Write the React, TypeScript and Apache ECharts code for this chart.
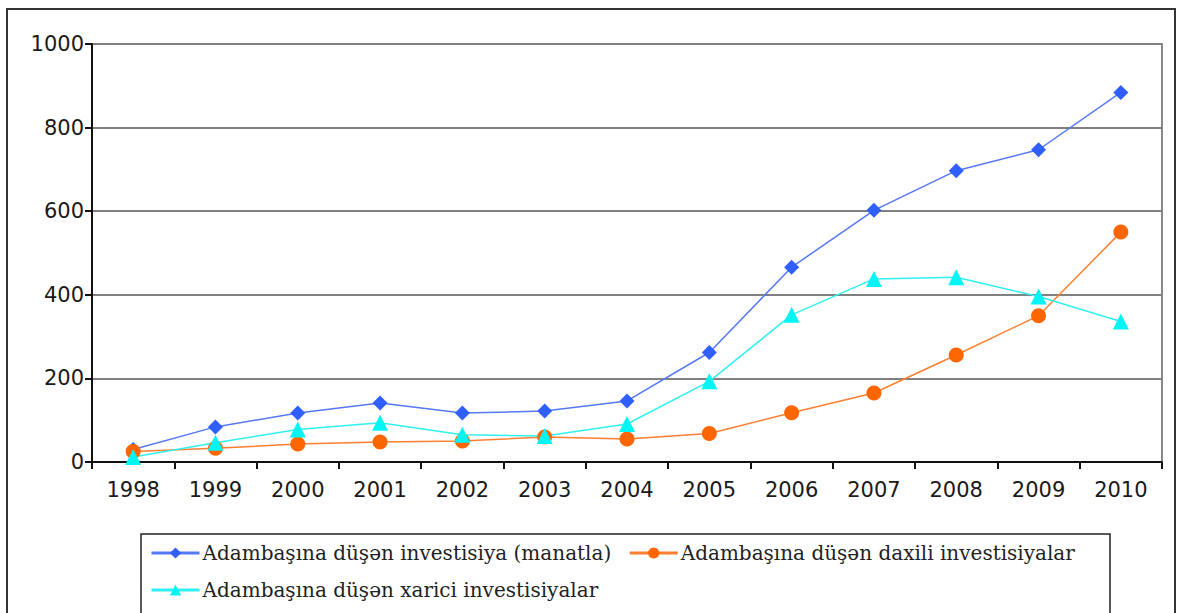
import React, { useEffect, useRef } from "react";
import * as echarts from "echarts";

const years = ["1998", "1999", "2000", "2001", "2002", "2003", "2004", "2005", "2006", "2007", "2008", "2009", "2010"];
const totalPerCapita = [30, 84, 117, 141, 117, 122, 146, 262, 466, 602, 697, 747, 884];
const domesticPerCapita = [25, 33, 43, 48, 50, 60, 55, 68, 118, 165, 256, 350, 550];
const foreignPerCapita = [12, 46, 78, 94, 65, 62, 91, 193, 352, 438, 442, 396, 336];
const seriesNames = [
  "Adambaşına düşən investisiya (manatla)",
  "Adambaşına düşən daxili investisiyalar",
  "Adambaşına düşən xarici investisiyalar",
];

export default function App() {
  const ref = useRef<HTMLDivElement>(null);
  useEffect(() => {
    if (!ref.current) return;
    const chart = echarts.init(ref.current, null, { renderer: "svg" });
    chart.setOption({
      animation: false,
      backgroundColor: "#ffffff",
      grid: {
        left: 92,
        right: 18,
        top: 44,
        bottom: 151,
        show: true,
        borderColor: "#8a8a8a",
        borderWidth: 2,
      },
      xAxis: {
        type: "category",
        data: years,
        boundaryGap: true,
        axisLine: { show: true, lineStyle: { color: "#111", width: 2 } },
        axisTick: { show: true, inside: false, length: 7, lineStyle: { color: "#111", width: 2 } },
        axisLabel: { color: "#1a1a1a", fontSize: 21, fontFamily: "DejaVu Sans", margin: 17 },
        splitLine: { show: false },
      },
      yAxis: {
        type: "value",
        min: 0,
        max: 1000,
        interval: 200,
        axisLine: { show: true, lineStyle: { color: "#111", width: 2 } },
        axisTick: { show: true, inside: false, length: 7, lineStyle: { color: "#111", width: 2 } },
        axisLabel: {
          color: "#1a1a1a",
          fontSize: 21,
          fontFamily: "DejaVu Sans",
          margin: 8,
          formatter: (v: number) => String(v),
        },
        splitLine: { show: true, lineStyle: { color: "#808080", width: 2 } },
      },
      legend: {
        left: 150,
        top: 543,
        width: 950,
        orient: "horizontal",
        itemWidth: 48,
        itemHeight: 14,
        itemGap: 17,
        padding: 0,
        lineStyle: { width: 3 },
        textStyle: { fontFamily: "DejaVu Serif", fontSize: 20, color: "#222", padding: [0, 0, 0, -2] },
        data: seriesNames,
      },
      graphic: [
        {
          type: "rect",
          shape: { x: 7, y: 9, width: 1168, height: 620 },
          style: { fill: "none", stroke: "#333", lineWidth: 2 },
          silent: true,
        },
        {
          type: "rect",
          shape: { x: 141, y: 534, width: 969, height: 84 },
          style: { fill: "none", stroke: "#222", lineWidth: 1.5 },
          silent: true,
        },
      ],
      series: [
        {
          name: seriesNames[0],
          type: "line",
          data: totalPerCapita,
          symbol: "diamond",
          symbolSize: 15,
          itemStyle: { color: "#2f5fff" },
          lineStyle: { color: "#5578f5", width: 1.5 },
        },
        {
          name: seriesNames[1],
          type: "line",
          data: domesticPerCapita,
          symbol: "circle",
          symbolSize: 15,
          itemStyle: { color: "#ff6600" },
          lineStyle: { color: "#ff7f30", width: 1.5 },
        },
        {
          name: seriesNames[2],
          type: "line",
          data: foreignPerCapita,
          symbol: "triangle",
          symbolSize: 16,
          itemStyle: { color: "#00f5f5" },
          lineStyle: { color: "#30f0f0", width: 1.5 },
        },
      ],
    });
    return () => chart.dispose();
  }, []);
  return (
    <div
      ref={ref}
      style={{ position: "fixed", left: 0, top: 0, width: 1180, height: 613, background: "#fff" }}
    />
  );
}
